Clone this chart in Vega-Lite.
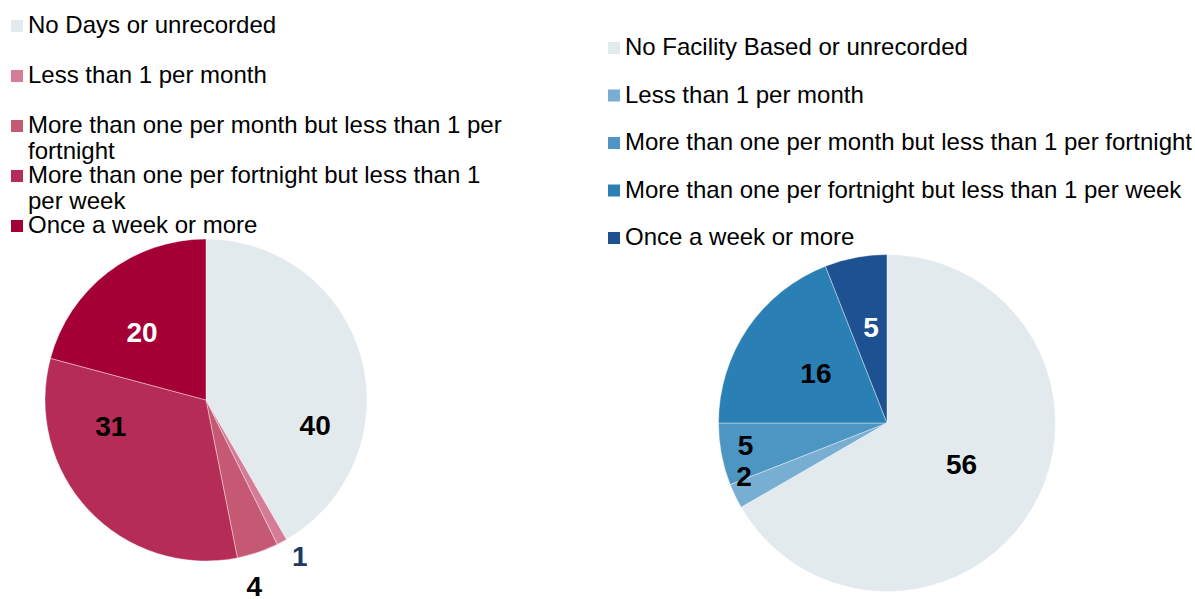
{
  "$schema": "https://vega.github.io/schema/vega-lite/v6.json",
  "padding": {"top": 14, "left": 0, "right": 0, "bottom": 0},
  "bounds": "flush",
  "spacing": 306.5,
  "config": {
    "view": {"stroke": null},
    "legend": {
      "orient": "none",
      "direction": "vertical",
      "symbolType": "square",
      "symbolSize": 144,
      "symbolStrokeWidth": 0,
      "labelFont": "Liberation Sans",
      "labelFontSize": 24,
      "labelColor": "black",
      "labelLimit": 2000,
      "labelOffset": -1,
      "padding": 0
    }
  },
  "resolve": {"scale": {"color": "independent", "theta": "independent"}, "legend": {"color": "independent"}},
  "hconcat": [
    {
      "width": 412,
      "height": 322,
      "data": {"values": [
        {"cat": "No Days or unrecorded", "value": 40},
        {"cat": "Less than 1 per month", "value": 1},
        {"cat": "More than one per month but less than 1 per fortnight", "value": 4},
        {"cat": "More than one per fortnight but less than 1 per week", "value": 31},
        {"cat": "Once a week or more", "value": 20}
      ]},
      "transform": [{"window": [{"op": "row_number", "as": "idx"}]}],
      "encoding": {
        "theta": {"field": "value", "type": "quantitative", "stack": true},
        "order": {"field": "idx", "type": "quantitative"}
      },
      "layer": [
        {
          "mark": {"type": "arc", "stroke": "white", "strokeWidth": 0.4},
          "encoding": {
            "color": {
              "field": "cat", "type": "nominal",
              "scale": {
                "domain": ["No Days or unrecorded", "Less than 1 per month", "More than one per month but less than 1 per fortnight", "More than one per fortnight but less than 1 per week", "Once a week or more"],
                "range": ["#E3EAEE", "#D47C98", "#C55872", "#B52D56", "#A50035"]
              },
              "legend": {
                "title": null,
                "legendX": 5,
                "legendY": -225,
                "clipHeight": 24,
                "gridAlign": "all",
                "rowPadding": -2,
                "encode": {"labels": {"enter": {"lineHeight": {"value": 24.25}}, "update": {"lineHeight": {"value": 24.25}}}},
                "labelExpr": "datum.label === 'More than one per month but less than 1 per fortnight' ? ['More than one per month but less than 1 per', 'fortnight'] : datum.label === 'More than one per fortnight but less than 1 per week' ? ['More than one per fortnight but less than 1', 'per week'] : datum.label"
              }
            }
          }
        },
        {
          "mark": {"type": "text", "radius": 113, "dy": 56, "font": "Liberation Sans", "fontWeight": "bold", "fontSize": 28, "fill": "black"},
          "encoding": {"text": {"condition": {"test": "datum.cat === 'No Days or unrecorded'", "field": "value", "type": "quantitative"}, "value": ""}}
        },
        {
          "mark": {"type": "text", "radius": 184, "dx": 7, "dy": -4, "font": "Liberation Sans", "fontWeight": "bold", "fontSize": 28, "fill": "#1F3864"},
          "encoding": {"text": {"condition": {"test": "datum.cat === 'Less than 1 per month'", "field": "value", "type": "quantitative"}, "value": ""}}
        },
        {
          "mark": {"type": "text", "radius": 194, "dx": -14, "dy": 4, "font": "Liberation Sans", "fontWeight": "bold", "fontSize": 28, "fill": "black"},
          "encoding": {"text": {"condition": {"test": "datum.cat === 'More than one per month but less than 1 per fortnight'", "field": "value", "type": "quantitative"}, "value": ""}}
        },
        {
          "mark": {"type": "text", "radius": 99, "dx": -23, "dy": -40, "font": "Liberation Sans", "fontWeight": "bold", "fontSize": 28, "fill": "black"},
          "encoding": {"text": {"condition": {"test": "datum.cat === 'More than one per fortnight but less than 1 per week'", "field": "value", "type": "quantitative"}, "value": ""}}
        },
        {
          "mark": {"type": "text", "radius": 92, "dx": -8, "dy": 7, "font": "Liberation Sans", "fontWeight": "bold", "fontSize": 28, "fill": "white"},
          "encoding": {"text": {"condition": {"test": "datum.cat === 'Once a week or more'", "field": "value", "type": "quantitative"}, "value": ""}}
        }
      ]
    },
    {
      "width": 337,
      "height": 368,
      "data": {"values": [
        {"cat": "No Facility Based or unrecorded", "value": 56},
        {"cat": "Less than 1 per month", "value": 2},
        {"cat": "More than one per month but less than 1 per fortnight", "value": 5},
        {"cat": "More than one per fortnight but less than 1 per week", "value": 16},
        {"cat": "Once a week or more", "value": 5}
      ]},
      "transform": [{"window": [{"op": "row_number", "as": "idx"}]}],
      "encoding": {
        "theta": {"field": "value", "type": "quantitative", "stack": true},
        "order": {"field": "idx", "type": "quantitative"}
      },
      "layer": [
        {
          "mark": {"type": "arc", "stroke": "white", "strokeWidth": 0.4},
          "encoding": {
            "color": {
              "field": "cat", "type": "nominal",
              "scale": {
                "domain": ["No Facility Based or unrecorded", "Less than 1 per month", "More than one per month but less than 1 per fortnight", "More than one per fortnight but less than 1 per week", "Once a week or more"],
                "range": ["#E3EAEE", "#77AED2", "#4D95C3", "#2A7FB5", "#1E5192"]
              },
              "legend": {
                "title": null,
                "legendX": -116.5,
                "legendY": -203,
                "clipHeight": 24,
                "rowPadding": 23.5
              }
            }
          }
        },
        {
          "mark": {"type": "text", "radius": 86, "font": "Liberation Sans", "fontWeight": "bold", "fontSize": 28, "fill": "black"},
          "encoding": {"text": {"condition": {"test": "datum.cat === 'No Facility Based or unrecorded' || datum.cat === 'More than one per fortnight but less than 1 per week'", "field": "value", "type": "quantitative"}, "value": ""}}
        },
        {
          "mark": {"type": "text", "radius": 96, "dx": 2, "font": "Liberation Sans", "fontWeight": "bold", "fontSize": 28, "fill": "white"},
          "encoding": {"text": {"condition": {"test": "datum.cat === 'Once a week or more'", "field": "value", "type": "quantitative"}, "value": ""}}
        },
        {
          "mark": {"type": "text", "radius": 142, "dx": -2, "dy": -2, "font": "Liberation Sans", "fontWeight": "bold", "fontSize": 28, "fill": "black"},
          "encoding": {"text": {"condition": {"test": "datum.cat === 'More than one per month but less than 1 per fortnight'", "field": "value", "type": "quantitative"}, "value": ""}}
        },
        {
          "mark": {"type": "text", "radius": 153, "dx": -5, "dy": -11, "font": "Liberation Sans", "fontWeight": "bold", "fontSize": 28, "fill": "black"},
          "encoding": {"text": {"condition": {"test": "datum.cat === 'Less than 1 per month'", "field": "value", "type": "quantitative"}, "value": ""}}
        }
      ]
    }
  ]
}
